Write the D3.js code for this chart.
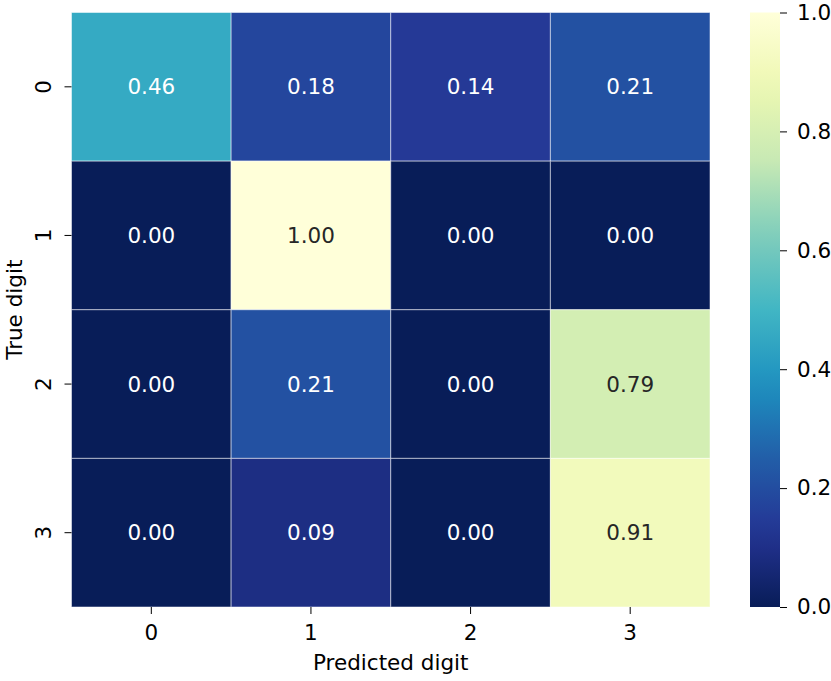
<!DOCTYPE html>
<html>
<head>
<meta charset="utf-8">
<script src="https://cdn.jsdelivr.net/npm/d3@7"></script>
<style>
  body { margin: 0; background: #fff; }
  text { font-family: "DejaVu Sans", sans-serif; }
</style>
</head>
<body>
<svg id="chart"></svg>
<script>
// data
const predictedLabels = ['0', '1', '2', '3'];
const trueLabels = ['0', '1', '2', '3'];
const row0 = [0.46, 0.18, 0.14, 0.21];
const row1 = [0.00, 1.00, 0.00, 0.00];
const row2 = [0.00, 0.21, 0.00, 0.79];
const row3 = [0.00, 0.09, 0.00, 0.91];
const colorTicks = [0.0, 0.2, 0.4, 0.6, 0.8, 1.0];

const rows = [row0, row1, row2, row3];
const cells = [];
rows.forEach((r, i) => r.forEach((v, j) => cells.push({ t: trueLabels[i], p: predictedLabels[j], v })));

const W = 831, H = 681;
const margin = { top: 12.5, left: 71.5 };
const width = 638.5, height = 594.5;

const svg = d3.select('#chart').attr('width', W).attr('height', H);
const chart = svg.append('g').attr('transform', `translate(${margin.left},${margin.top})`);

// YlGnBu reversed, linear between the 9 brewer colours (like matplotlib)
const interp = d3.piecewise(d3.interpolateRgb, d3.schemeYlGnBu[9].slice().reverse());
const color = v => interp(Math.max(0, Math.min(1, v)));

const x = d3.scaleBand().domain(predictedLabels).range([0, width]);
const y = d3.scaleBand().domain(trueLabels).range([0, height]);

function lum(c) {
  const rgb = d3.rgb(c);
  const f = u => { u /= 255; return u <= 0.03928 ? u / 12.92 : Math.pow((u + 0.055) / 1.055, 2.4); };
  return 0.2126 * f(rgb.r) + 0.7152 * f(rgb.g) + 0.0722 * f(rgb.b);
}

chart.selectAll('.cell')
  .data(cells)
  .join('rect')
    .attr('class', 'cell')
    .attr('x', d => x(d.p))
    .attr('y', d => y(d.t))
    .attr('width', x.bandwidth())
    .attr('height', y.bandwidth())
    .attr('fill', d => color(d.v))
    .attr('stroke', 'rgba(255,255,255,0.5)')
    .attr('stroke-width', 1);

chart.selectAll('.annot')
  .data(cells)
  .join('text')
    .attr('class', 'annot')
    .attr('x', d => x(d.p) + x.bandwidth() / 2)
    .attr('y', d => y(d.t) + y.bandwidth() / 2)
    .attr('text-anchor', 'middle')
    .attr('dominant-baseline', 'central')
    .attr('font-size', 21.5)
    .attr('fill', d => lum(color(d.v)) > 0.408 ? '#262626' : '#ffffff')
    .text(d => d3.format('.2f')(d.v));

// axes
const xAxis = d3.axisBottom(x).tickSize(7).tickPadding(11).tickSizeOuter(0);
const yAxis = d3.axisLeft(y).tickSize(7).tickPadding(6).tickSizeOuter(0);

const xAxisG = chart.append('g')
    .attr('transform', `translate(0,${height})`)
    .call(xAxis);
xAxisG.select('.domain').remove();
xAxisG.selectAll('text').attr('font-size', 21.5).attr('fill', '#000').attr('font-family', 'DejaVu Sans');

const yAxisG = chart.append('g').call(yAxis);
yAxisG.select('.domain').remove();
yAxisG.selectAll('text')
    .attr('font-size', 21.5)
    .attr('fill', '#000')
    .attr('font-family', 'DejaVu Sans')
    .attr('x', 0).attr('dy', null)
    .attr('text-anchor', 'middle')
    .attr('dominant-baseline', 'central')
    .attr('transform', 'translate(-28,0) rotate(-90)');

// axis titles
chart.append('text')
    .attr('x', width / 2)
    .attr('y', height + 63)
    .attr('text-anchor', 'middle')
    .attr('font-size', 21.5)
    .text('Predicted digit');

chart.append('text')
    .attr('transform', `translate(${-margin.left + 22},${height / 2}) rotate(-90)`)
    .attr('text-anchor', 'middle')
    .attr('font-size', 21.5)
    .text('True digit');

// colorbar
const cbX = 750, cbW = 30;
const cScale = d3.scaleLinear().domain([0, 1]).range([margin.top + height, margin.top]);

const defs = svg.append('defs');
const grad = defs.append('linearGradient')
    .attr('id', 'cbgrad')
    .attr('x1', 0).attr('y1', 1).attr('x2', 0).attr('y2', 0);
grad.selectAll('stop')
  .data(d3.range(0, 1.0001, 0.05))
  .join('stop')
    .attr('offset', d => d)
    .attr('stop-color', d => color(d));

svg.append('rect')
    .attr('x', cbX)
    .attr('y', margin.top)
    .attr('width', cbW)
    .attr('height', height)
    .attr('fill', 'url(#cbgrad)');

const cAxisG = svg.append('g')
    .attr('transform', `translate(${cbX + cbW},0)`)
    .call(d3.axisRight(cScale).tickValues(colorTicks).tickFormat(d3.format('.1f')).tickSize(7).tickPadding(10));
cAxisG.select('.domain').remove();
cAxisG.selectAll('text').attr('font-size', 21.5).attr('fill', '#000').attr('font-family', 'DejaVu Sans');
</script>
</body>
</html>
